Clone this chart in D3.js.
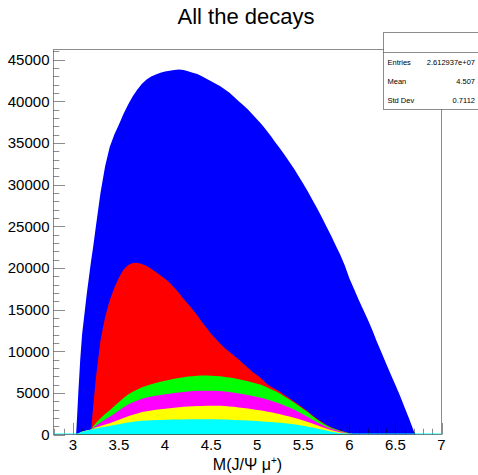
<!DOCTYPE html>
<html>
<head>
<meta charset="utf-8">
<script src="https://cdn.jsdelivr.net/npm/d3@7"></script>
<style>
  html, body { margin: 0; padding: 0; background: #fff; }
  svg { display: block; font-family: "Liberation Sans", Arial, Helvetica, sans-serif; }
</style>
</head>
<body>
<svg id="chart" width="478" height="475"></svg>
<script>
// Invariant mass of J/psi mu+ : stacked contributions per decay channel (entries per bin)
const mass = [3.035, 3.04, 3.06, 3.08, 3.10, 3.15, 3.19, 3.20, 3.22, 3.25,
  3.30, 3.35, 3.40, 3.45, 3.50, 3.55, 3.60, 3.65, 3.70, 3.75,
  3.80, 3.85, 3.90, 3.95, 4.00, 4.05, 4.10, 4.15, 4.20, 4.25,
  4.30, 4.35, 4.40, 4.45, 4.50, 4.55, 4.60, 4.65, 4.70, 4.75,
  4.80, 4.85, 4.90, 4.95, 5.00, 5.05, 5.10, 5.15, 5.20, 5.25,
  5.30, 5.35, 5.40, 5.45, 5.50, 5.55, 5.60, 5.65, 5.70, 5.75,
  5.80, 5.85, 5.90, 5.95, 6.00, 6.05, 6.10, 6.15, 6.20, 6.25,
  6.30, 6.35, 6.40, 6.45, 6.50, 6.55, 6.60, 6.65, 6.70, 6.72];

const cyanCounts = [0, 30, 120, 230, 330, 470, 560, 590, 640, 720,
  830, 930, 1020, 1130, 1240, 1350, 1440, 1520, 1580, 1640,
  1680, 1710, 1730, 1750, 1770, 1780, 1790, 1800, 1810, 1820,
  1820, 1820, 1820, 1820, 1830, 1820, 1810, 1790, 1770, 1750,
  1720, 1700, 1670, 1640, 1610, 1570, 1530, 1490, 1450, 1400,
  1340, 1280, 1220, 1140, 1040, 940, 830, 710, 590, 470,
  350, 250, 160, 90, 30, 10, 0, 0, 0, 0,
  0, 0, 0, 0, 0, 0, 0, 0, 0, 0];

const yellowCounts = [0, 0, 0, 0, 0, 0, 0, 0, 60, 130,
  200, 260, 320, 420, 520, 630, 740, 850, 950, 1050,
  1120, 1180, 1230, 1280, 1330, 1380, 1430, 1480, 1520, 1550,
  1580, 1600, 1610, 1620, 1630, 1640, 1640, 1620, 1600, 1570,
  1530, 1490, 1440, 1390, 1340, 1300, 1240, 1170, 1100, 1030,
  950, 870, 790, 720, 650, 570, 480, 390, 310, 240,
  180, 140, 110, 80, 40, 10, 0, 0, 0, 0,
  0, 0, 0, 0, 0, 0, 0, 0, 0, 0];

const magentaCounts = [0, 0, 0, 0, 0, 0, 0, 0, 60, 200,
  420, 620, 780, 950, 1110, 1280, 1420, 1500, 1560, 1600,
  1630, 1660, 1690, 1720, 1730, 1740, 1750, 1760, 1780, 1800,
  1810, 1820, 1830, 1820, 1800, 1780, 1760, 1740, 1720, 1700,
  1680, 1650, 1620, 1590, 1550, 1510, 1450, 1390, 1330, 1270,
  1170, 1080, 980, 850, 710, 580, 460, 370, 300, 230,
  180, 140, 110, 80, 40, 10, 0, 0, 0, 0,
  0, 0, 0, 0, 0, 0, 0, 0, 0, 0];

const greenCounts = [0, 0, 0, 0, 0, 0, 0, 0, 200, 330,
  500, 650, 800, 920, 1030, 1130, 1210, 1270, 1320, 1380,
  1430, 1490, 1540, 1590, 1630, 1670, 1710, 1740, 1760, 1780,
  1790, 1800, 1810, 1810, 1800, 1790, 1780, 1760, 1740, 1720,
  1700, 1680, 1650, 1620, 1600, 1560, 1480, 1390, 1300, 1190,
  1080, 960, 850, 750, 660, 570, 460, 340, 250, 180,
  130, 100, 80, 60, 30, 10, 0, 0, 0, 0,
  0, 0, 0, 0, 0, 0, 0, 0, 0, 0];

const redCounts = [0, 0, 0, 0, 0, 0, 0, 210, 2340, 5420,
  9350, 11640, 13180, 14180, 14950, 15410, 15540, 15440, 15190, 14780,
  14360, 13860, 13310, 12760, 12240, 11630, 10920, 10220, 9430, 8700,
  8000, 7260, 6430, 5730, 4990, 4470, 3910, 3440, 3070, 2710,
  2370, 1980, 1620, 1260, 1000, 710, 420, 300, 240, 200,
  170, 150, 130, 120, 110, 100, 90, 80, 70, 60,
  50, 40, 30, 20, 10, 0, 0, 0, 0, 0,
  0, 0, 0, 0, 0, 0, 0, 0, 0, 0];

const blueCounts = [0, 870, 5080, 8770, 11670, 16330, 19640, 20200, 19200, 18200,
  17700, 18100, 18400, 18400, 18350, 18700, 19250, 20020, 20800, 21650,
  22380, 23050, 23700, 24300, 24850, 25450, 26150, 26800, 27450, 27950,
  28400, 28950, 29500, 29900, 30350, 30600, 30900, 31050, 31100, 31050,
  31000, 31000, 31000, 30900, 30700, 30550, 30380, 30060, 29580, 29210,
  28790, 28360, 27930, 27420, 26930, 26390, 25830, 25260, 24580, 23820,
  23010, 22080, 21110, 19970, 18600, 17460, 16200, 15000, 13800, 12500,
  11100, 9800, 8500, 7200, 5950, 4650, 3250, 1850, 400, 0];

// stacking order, bottom to top
const seriesKeys = ["cyan", "yellow", "magenta", "green", "red", "blue"];
const seriesColors = ["#00ffff", "#ffff00", "#ff00ff", "#00ff00", "#ff0000", "#0000ff"];
const seriesCounts = [cyanCounts, yellowCounts, magentaCounts, greenCounts, redCounts, blueCounts];

const xTickLabels = ["3", "3.5", "4", "4.5", "5", "5.5", "6", "6.5", "7"];
const yTickLabels = ["0", "5000", "10000", "15000", "20000", "25000", "30000", "35000", "40000", "45000"];

const statsLabels = ["Entries", "Mean", "Std Dev"];
const statsValues = ["2.612937e+07", "4.507", "0.7112"];

const xDomain = [2.79, 7.0];
const yDomain = [0, 46200];

// ---------------------------------------------------------------
const svg = d3.select("#chart");
const frame = { left: 53.5, right: 441.5, top: 49.5, bottom: 434.5 };

const x = d3.scaleLinear().domain(xDomain).range([frame.left, frame.right]);
const y = d3.scaleLinear().domain(yDomain).range([frame.bottom, frame.top]);

const table = mass.map((m, i) => {
  const row = { m };
  seriesKeys.forEach((k, j) => { row[k] = seriesCounts[j][i]; });
  return row;
});
const stacked = d3.stack().keys(seriesKeys)(table);

svg.append("defs").append("clipPath").attr("id", "frameClip")
  .append("rect")
  .attr("x", frame.left).attr("y", frame.top)
  .attr("width", frame.right - frame.left).attr("height", frame.bottom - frame.top);

// each stacked histogram is filled from the baseline up to its cumulative top
const cumulativeArea = d3.area()
  .x(p => x(p.data.m))
  .y0(y(0))
  .y1(p => y(p[1]));

const axisInk = "rgba(0,0,0,0.45)";
const topLayer = stacked[stacked.length - 1];
const lowerLayers = stacked.slice(0, -1).reverse();

// total (blue) first
svg.append("path")
  .attr("clip-path", "url(#frameClip)")
  .attr("fill", seriesColors[seriesKeys.indexOf(topLayer.key)])
  .attr("d", cumulativeArea(topLayer));

// x axis ticks (major every 0.5, minor every 0.1), drawn upward inside the frame
const xMajorLen = 11.6, xMinorLen = 5.8;
const xMinor = d3.range(28, 71).map(v => v / 10).filter(v => v >= xDomain[0] && v <= xDomain[1]);
const xAxisG = svg.append("g");
xAxisG.selectAll("line")
  .data(xMinor)
  .join("line")
  .attr("x1", d => Math.round(x(d)) + 0.5).attr("x2", d => Math.round(x(d)) + 0.5)
  .attr("y1", frame.bottom)
  .attr("y2", d => frame.bottom - (Math.abs(d * 2 - Math.round(d * 2)) < 1e-6 ? xMajorLen : xMinorLen))
  .attr("stroke", axisInk).attr("stroke-width", 1);

// remaining channels, drawn over the ticks
const plot = svg.append("g").attr("clip-path", "url(#frameClip)");
plot.selectAll("path.layer")
  .data(lowerLayers)
  .join("path")
  .attr("class", "layer")
  .attr("fill", d => seriesColors[seriesKeys.indexOf(d.key)])
  .attr("d", d => cumulativeArea(d));

// empty bins of the last stacked histogram trace the baseline
plot.append("line")
  .attr("x1", x(xDomain[0])).attr("x2", x(xDomain[1]))
  .attr("y1", y(0) - 0.5).attr("y2", y(0) - 0.5)
  .attr("stroke", "#00ffff").attr("stroke-width", 1);

// frame
svg.append("rect")
  .attr("x", frame.left).attr("y", frame.top)
  .attr("width", frame.right - frame.left).attr("height", frame.bottom - frame.top)
  .attr("fill", "none").attr("stroke", axisInk).attr("stroke-width", 1);

xAxisG.selectAll("text")
  .data(xTickLabels)
  .join("text")
  .attr("x", d => x(+d))
  .attr("y", 450)
  .attr("text-anchor", "middle")
  .attr("font-size", 15)
  .attr("fill", "#000")
  .text(d => d);

// y axis ticks (major every 5000, minor every 1000)
const yMajorLen = 11.6, yMinorLen = 5.8;
const yMinor = d3.range(0, 46001, 1000);
const yAxisG = svg.append("g");
yAxisG.selectAll("line")
  .data(yMinor)
  .join("line")
  .attr("x1", frame.left)
  .attr("x2", d => frame.left + (d % 5000 === 0 ? yMajorLen : yMinorLen))
  .attr("y1", d => Math.round(y(d)) + 0.5).attr("y2", d => Math.round(y(d)) + 0.5)
  .attr("stroke", axisInk).attr("stroke-width", 1);

yAxisG.selectAll("text")
  .data(yTickLabels)
  .join("text")
  .attr("x", 49.5)
  .attr("y", d => y(+d))
  .attr("dy", "0.36em")
  .attr("text-anchor", "end")
  .attr("font-size", 15)
  .attr("fill", "#000")
  .text(d => d);

// axis title
const xTitle = svg.append("text")
  .attr("x", (frame.left + frame.right) / 2)
  .attr("y", 470)
  .attr("text-anchor", "middle")
  .attr("font-size", 16)
  .attr("fill", "#000");
xTitle.append("tspan").text("M(J/\u03A8 \u03BC");
xTitle.append("tspan").attr("font-size", 10).attr("dy", -6).text("+");
xTitle.append("tspan").attr("dy", 6).text(")");

// title
svg.append("text")
  .attr("x", 246)
  .attr("y", 24)
  .attr("text-anchor", "middle")
  .attr("font-size", 22)
  .attr("fill", "#000")
  .text("All the decays");

// statistics box
const stats = svg.append("g");
stats.append("rect")
  .attr("x", 383.5).attr("y", 32.5)
  .attr("width", 96).attr("height", 77)
  .attr("fill", "#fff").attr("stroke", axisInk).attr("stroke-width", 1);
stats.append("line")
  .attr("x1", 383.5).attr("x2", 478)
  .attr("y1", 52.5).attr("y2", 52.5)
  .attr("stroke", axisInk).attr("stroke-width", 1);
statsLabels.forEach((lab, i) => {
  const yy = 64.5 + i * 19.2;
  stats.append("text").attr("x", 387.5).attr("y", yy)
    .attr("font-size", 7.5).attr("fill", "#000").text(lab);
  stats.append("text").attr("x", 475).attr("y", yy)
    .attr("text-anchor", "end")
    .attr("font-size", 7.5).attr("fill", "#000").text(statsValues[i]);
});
</script>
</body>
</html>
